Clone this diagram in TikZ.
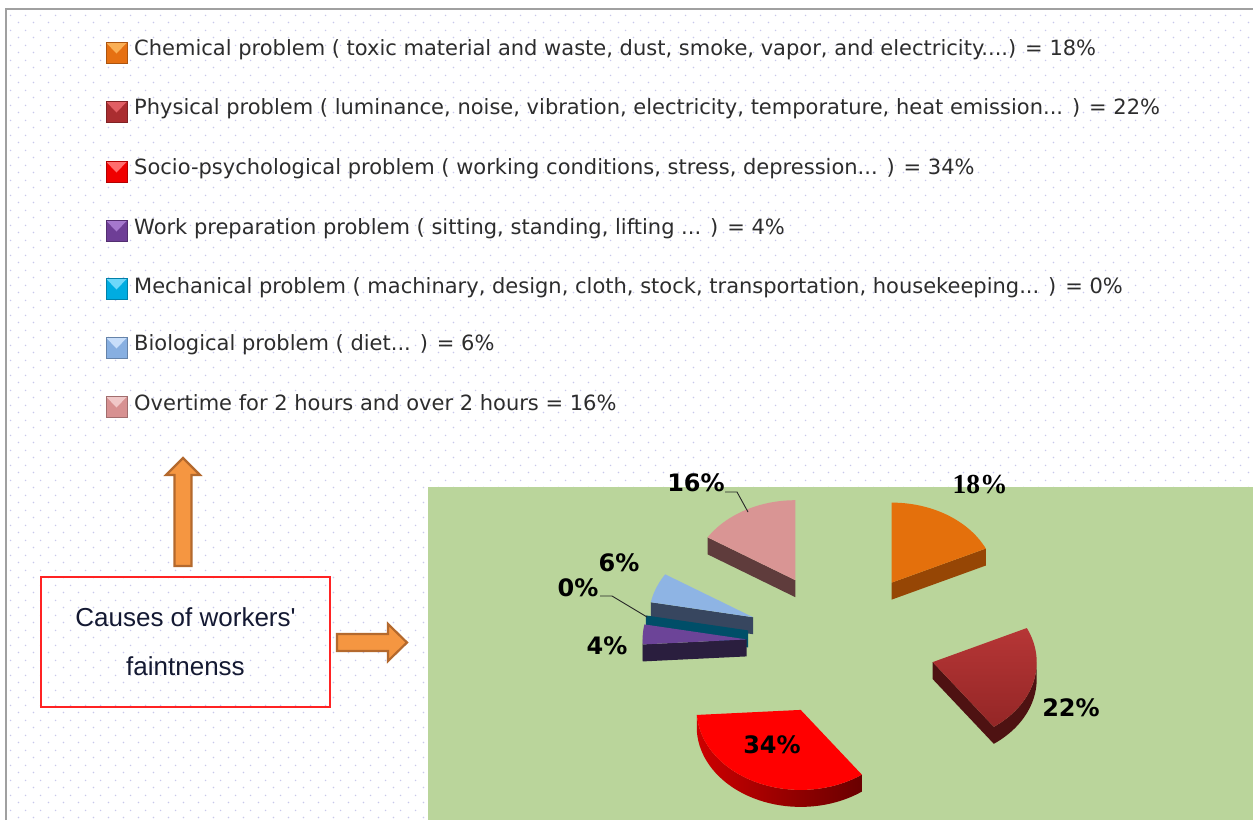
\documentclass[tikz,border=0pt]{standalone}
\usepackage{fontspec}
\setmainfont{DejaVu Sans}
\newfontfamily\boxfont{Liberation Sans}
\newfontfamily\serfont{Liberation Serif}
\usetikzlibrary{patterns.meta}

\definecolor{dotcol}{RGB}{200,200,236}
\definecolor{framecol}{RGB}{160,160,160}
\definecolor{greenbg}{RGB}{186,213,155}
\definecolor{legtxt}{RGB}{45,45,45}
\definecolor{boxred}{RGB}{255,35,35}
\definecolor{boxtxt}{RGB}{20,25,50}
\definecolor{arrfill}{RGB}{245,150,65}
\definecolor{arrdraw}{RGB}{180,105,45}
% legend colours
\definecolor{cOrange}{RGB}{230,112,18}
\definecolor{cOrangeL}{RGB}{250,175,85}
\definecolor{cPhys}{RGB}{170,45,48}
\definecolor{cPhysL}{RGB}{225,95,100}
\definecolor{cSocio}{RGB}{240,0,0}
\definecolor{cSocioL}{RGB}{255,110,110}
\definecolor{cWork}{RGB}{110,62,150}
\definecolor{cWorkL}{RGB}{165,120,205}
\definecolor{cMech}{RGB}{0,172,225}
\definecolor{cMechL}{RGB}{110,215,250}
\definecolor{cBio}{RGB}{135,175,225}
\definecolor{cBioL}{RGB}{200,222,250}
\definecolor{cOver}{RGB}{215,145,145}
\definecolor{cOverL}{RGB}{240,200,200}
% pie colours
\definecolor{pOrTop}{RGB}{228,112,12}
\definecolor{pOrSide}{RGB}{150,70,5}
\definecolor{pPhTop}{RGB}{182,54,54}
\definecolor{pPhTopB}{RGB}{148,38,38}
\definecolor{pPhSide}{RGB}{78,18,18}
\definecolor{pReTop}{RGB}{255,0,0}
\definecolor{pReSideL}{RGB}{205,0,0}
\definecolor{pReSideR}{RGB}{105,0,0}
\definecolor{pWoTop}{RGB}{108,68,152}
\definecolor{pWoSide}{RGB}{42,30,62}
\definecolor{pMeSide}{RGB}{0,78,104}
\definecolor{pBiTop}{RGB}{142,180,228}
\definecolor{pBiSide}{RGB}{55,70,95}
\definecolor{pOvTop}{RGB}{217,149,148}
\definecolor{pOvSide}{RGB}{95,60,60}

\tikzdeclarepattern{
  name=bgdots,
  type=colored,
  bounding box={(0pt,0pt) and (15pt,15pt)},
  tile size={(15pt,15pt)},
  code={
    \fill[dotcol] (3.75pt,3.75pt) circle (0.9pt);
    \fill[dotcol] (11.25pt,11.25pt) circle (0.9pt);
  }
}

\newcommand{\legmark}[3]{%
  \fill[#2] (106,{#1-10.5}) rectangle (127,{#1+10.5});
  \fill[#3] (106,{#1-10.5}) -- (127,{#1-10.5}) -- (116.5,{#1+0.5}) -- cycle;
  \draw[#2!75!black, line width=0.8] (106,{#1-10.5}) rectangle (127,{#1+10.5});
}
\newcommand{\pieTop}[5]{%
  \path[#5] (#1,#2) -- plot[domain=#3:#4,samples=50,variable=\t]
    ({#1+104*sin(\t)},{#2-80*cos(\t)}) -- cycle;
}
\newcommand{\pieArc}[5]{%
  \path[#5] plot[domain=#3:#4,samples=40,variable=\t]
    ({#1+104*sin(\t)},{#2-80*cos(\t)})
    -- plot[domain=#4:#3,samples=40,variable=\t]
    ({#1+104*sin(\t)},{#2+17-80*cos(\t)}) -- cycle;
}
\newcommand{\pieRad}[4]{%
  \path[#4] (#1,#2) -- ({#1+104*sin(#3)},{#2-80*cos(#3)})
    -- ({#1+104*sin(#3)},{#2+17-80*cos(#3)}) -- (#1,{#2+17}) -- cycle;
}

\begin{document}
\begin{tikzpicture}[x=1pt,y=-1pt,
  legtext/.style={anchor=base west, inner sep=0pt, text=legtxt,
    font=\fontsize{21}{25}\selectfont},
  pctlabel/.style={inner sep=0pt, text=black,
    font=\bfseries\fontsize{24}{28}\selectfont},
  leader/.style={draw=black!85, line width=0.9pt},
  causebox/.style={draw=boxred, line width=1.5pt, minimum width=289pt,
    minimum height=130pt, align=center, inner sep=0pt, text=boxtxt,
    font=\boxfont\fontsize{26}{49}\selectfont},
  blockarr/.style={fill=arrfill, draw=arrdraw, line width=2.2pt, line join=miter}
]
\useasboundingbox (0,0) rectangle (1253,820);
\fill[white] (0,0) rectangle (1253,820);
\fill[pattern=bgdots] (6,9) rectangle (1253,820);
\draw[framecol, line width=2pt] (6,820) -- (6,9) -- (1253,9);

% green chart area
\fill[greenbg] (428,487) rectangle (1253,820);

% legend
\legmark{53}{cOrange}{cOrangeL}
\legmark{112}{cPhys}{cPhysL}
\legmark{172}{cSocio}{cSocioL}
\legmark{231}{cWork}{cWorkL}
\legmark{289}{cMech}{cMechL}
\legmark{348}{cBio}{cBioL}
\legmark{407}{cOver}{cOverL}
\node[legtext] (leg1) at (134,55) {Chemical problem ( toxic material and waste, dust, smoke, vapor, and electricity....) = 18\%};
\node[legtext] (leg2) at (134,114) {Physical problem ( luminance, noise, vibration, electricity, temporature, heat emission... ) = 22\%};
\node[legtext] (leg3) at (134,174) {Socio-psychological problem ( working conditions, stress, depression... ) = 34\%};
\node[legtext] (leg4) at (134,234) {Work preparation problem ( sitting, standing, lifting ... ) = 4\%};
\node[legtext] (leg5) at (134,293) {Mechanical problem ( machinary, design, cloth, stock, transportation, housekeeping... ) = 0\%};
\node[legtext] (leg6) at (134,350) {Biological problem ( diet... ) = 6\%};
\node[legtext] (leg7) at (134,410) {Overtime for 2 hours and over 2 hours = 16\%};

% pie: overtime 16%
\pieRad{795.4}{580.2}{302.4}{fill=pOvSide}
\pieTop{795.4}{580.2}{302.4}{360}{fill=pOvTop}
% chemical 18%
\pieRad{891.7}{582.6}{64.8}{fill=pOrSide}
\pieTop{891.7}{582.6}{0}{64.8}{fill=pOrTop}
% biological 6%
\pieRad{753.0}{617.2}{280.8}{fill=pBiSide}
\pieTop{753.0}{617.2}{280.8}{302.4}{fill=pBiTop}
% mechanical 0%
\pieRad{748.0}{630.4}{280.8}{fill=pMeSide}
% work preparation 4%
\pieArc{746.6}{639.4}{266.4}{270}{fill=pWoSide}
\pieRad{746.6}{639.4}{266.4}{fill=pWoSide}
\pieTop{746.6}{639.4}{266.4}{280.8}{fill=pWoTop}
% physical 22%
\pieArc{932.7}{662.1}{90}{144}{fill=pPhSide}
\pieRad{932.7}{662.1}{144}{fill=pPhSide}
\pieTop{932.7}{662.1}{64.8}{144}{top color=pPhTop, bottom color=pPhTopB}
% socio 34%
\pieArc{800.7}{709.9}{144}{266.4}{left color=pReSideL, right color=pReSideR}
\pieTop{800.7}{709.9}{144}{266.4}{fill=pReTop}

% percentage labels
\node[pctlabel] (lab16) at (696,483) {16\%};
\node[pctlabel] (lab6) at (619,563) {6\%};
\node[pctlabel] (lab0) at (578,588) {0\%};
\node[pctlabel] (lab4) at (607,646) {4\%};
\node[pctlabel] (lab34) at (772,745) {34\%};
\node[pctlabel] (lab22) at (1071,708) {22\%};
\node[inner sep=0pt, font=\serfont\bfseries\fontsize{27.5}{30}\selectfont] (lab18) at (980,485) {18\%};

\coordinate (l16a) at (725,492);
\coordinate (p16) at (748,512);
\draw[leader] (l16a) -- (737,492) -- (p16);
\coordinate (l0a) at (600,596);
\coordinate (p0) at (647,617);
\draw[leader] (l0a) -- (612,596) -- (p0);

% causes box and arrows
\node[causebox] (box) at (185.5,642) {Causes of workers'\\faintnenss};
\draw[blockarr] (174.5,566) -- (174.5,475) -- (166,475) -- (183,458)
  -- (200,475) -- (191.5,475) -- (191.5,566) -- cycle;
\draw[blockarr] (337,634) -- (388,634) -- (388,624) -- (407,642.5)
  -- (388,661) -- (388,651) -- (337,651) -- cycle;
\end{tikzpicture}
\end{document}
